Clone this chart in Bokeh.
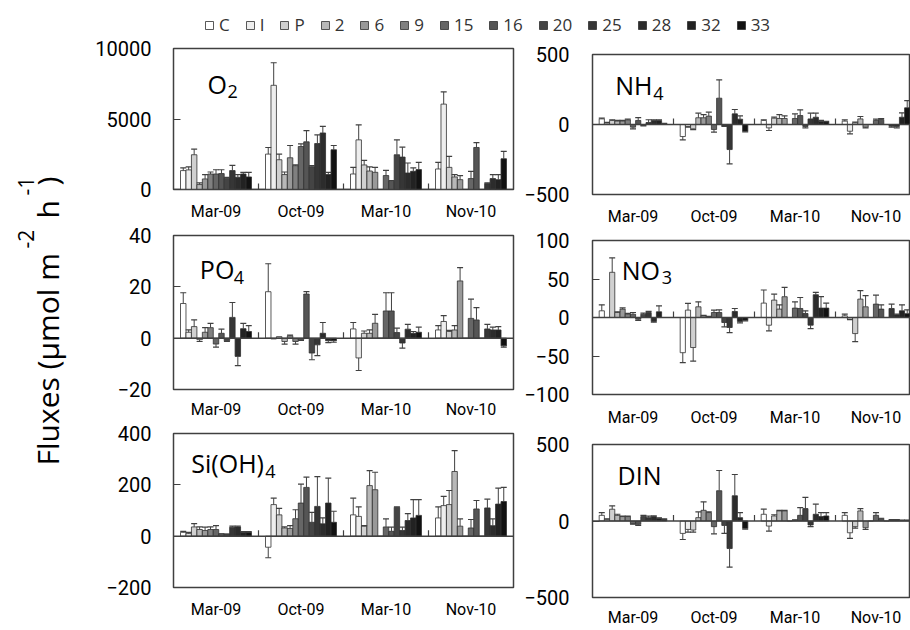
import numpy as np
from bokeh.plotting import figure
from bokeh.models import ColumnDataSource, Range1d, FixedTicker, Span, Label, Legend, LegendItem
from bokeh.layouts import column, row
from bokeh.embed import file_html
from bokeh.resources import INLINE

dates = ["Mar-09", "Oct-09", "Mar-10", "Nov-10"]
series = ["C", "I", "P", "2", "6", "9", "15", "16", "20", "25", "28", "32", "33"]
colors = ["#ffffff", "#eeeeee", "#d0d0d0", "#b8b8b8", "#999999", "#808080",
          "#666666", "#555555", "#444444", "#363636", "#2c2c2c", "#222222", "#121212"]

# rows = dates, columns = series
o2_mean = [[1340, 1390, 2465, 350, 750, 1100, 1100, 1130, 800, 1340, 870, 1100, 890],
           [2510, 7390, 2110, 1060, 2250, 1690, 3050, 3380, 1620, 3260, 4010, 1060, 2820],
           [1100, 3520, 1740, 1310, 1220, 0, 990, 590, 2465, 2300, 1170, 1290, 1410],
           [1455, 6055, 1570, 890, 700, 0, 775, 2980, 0, 420, 775, 700, 2180]]
o2_err = [[190, 210, 395, 120, 310, 140, 300, 270, 60, 370, 190, 120, 330],
          [470, 1600, 400, 180, 870, 50, 190, 800, 70, 610, 470, 160, 300],
          [470, 1060, 330, 290, 350, 0, 370, 50, 1055, 700, 710, 240, 510],
          [465, 865, 780, 170, 290, 0, 515, 350, 0, 50, 285, 360, 520]]

po4_mean = [[13.5, 2.3, 4.5, -0.6, 2.3, 4.1, -2.3, 1.9, -1.0, 8.1, -7.1, 3.7, 2.6],
            [18.1, -0.3, 0.6, -1.3, 0.9, -1.3, -0.6, 17.2, -5.8, -2.6, 1.9, -1.0, -1.0],
            [3.6, -7.7, 1.9, 1.9, 5.8, 0, 10.6, 10.6, 2.2, -1.9, 3.5, 1.9, 2.3],
            [3.2, 6.5, 2.6, 3.2, 22.3, 0, 7.7, 7.1, 0, 3.6, 3.2, 3.2, -3.0]]
po4_err = [[4.2, 0.9, 2.6, 0.7, 1.8, 1.7, 1.2, 1.6, 0.3, 5.8, 3.6, 2.1, 2.3],
           [10.9, 0, 0, 1.0, 0.3, 1.0, 0.3, 0.9, 2.6, 4.2, 4.2, 0.7, 0.6],
           [2.5, 4.9, 0.9, 1.3, 3.5, 0, 7.1, 7.1, 1.7, 2.0, 1.9, 0.7, 2.0],
           [1.7, 2.3, 0.4, 1.7, 5.2, 0, 7.5, 4.8, 0, 1.8, 1.1, 1.3, 0.5]]

si_mean = [[15, 10, 36, 26, 22, 26, 26, 10, 9, 35, 36, 15, 15],
           [-43, 123, 83, 32, 30, 68, 129, 190, 54, 116, 48, 129, 54],
           [83, 77, 39, 197, 181, 0, 36, 19, 112, 22, 61, 71, 81],
           [71, 119, 123, 252, 39, 0, 32, 106, 0, 110, 41, 125, 135]]
si_err = [[4, 5, 13, 10, 13, 10, 15, 0, 0, 4, 3, 3, 3],
          [41, 25, 25, 4, 11, 35, 74, 40, 39, 116, 23, 97, 43],
          [65, 37, 2, 58, 68, 0, 31, 16, 2, 13, 27, 71, 61],
          [43, 36, 55, 81, 28, 0, 33, 33, 0, 34, 26, 62, 55]]

nh4_mean = [[40, 10, 29, 24, 24, 33, -19, 29, -7, 14, 29, 29, 5],
            [-86, -14, -31, 48, 48, 60, -36, 188, -10, -179, 76, 38, -48],
            [29, -24, 45, 43, 43, 0, 43, 64, -14, 40, 52, 24, 17],
            [24, -48, 12, 40, -19, 0, 29, 36, 0, -12, -14, 52, 119]]
nh4_err = [[5, 5, 5, 5, 5, 5, 12, 20, 3, 20, 5, 5, 3],
           [24, 5, 5, 33, 23, 28, 19, 131, 3, 102, 31, 24, 5],
           [5, 19, 7, 28, 19, 0, 33, 41, 10, 41, 29, 5, 5],
           [9, 19, 5, 17, 5, 0, 10, 7, 0, 7, 10, 31, 52]]

no3_mean = [[8.7, 0, 58.7, 6.5, 10.9, 4.3, 4.3, -2.2, 4.3, 6.5, -5.2, 7.4, 0],
            [-45.7, 9.6, -39.0, 13.9, 2.2, 0.9, 6.5, 6.5, -6.5, -13.0, 7.8, -5.2, -3.5],
            [18.7, -10.0, 22.6, 10.9, 27.0, 0, 12.2, 11.7, 5.2, -10.0, 29.6, 12.2, 12.2],
            [2.2, -2.2, -20.9, 23.9, 13.9, 0, 17.4, 10.9, 0, 11.7, 3.5, 8.7, 5.0]]
no3_err = [[7.8, 0, 18.7, 1.0, 1.5, 1.0, 2.2, 1.5, 1.5, 1.5, 1.0, 7.8, 0],
           [13.0, 8.7, 17.6, 6.5, 0.5, 0.5, 3.1, 3.5, 5.7, 6.6, 3.9, 1.8, 1.0],
           [17.0, 7.4, 7.8, 5.6, 12.0, 0, 8.2, 14.3, 3.5, 4.4, 3.0, 14.8, 6.5],
           [2.1, 0.5, 10.4, 10.9, 14.4, 0, 11.7, 5.6, 0, 5.7, 1.0, 7.8, 5.0]]

din_mean = [[37, 11, 77, 37, 29, 29, -18, -22, 29, 22, 29, 18, 11],
            [-81, -55, -59, 22, 70, 55, -37, 198, -29, -180, 165, 22, -48],
            [44, -33, 33, 66, 66, 0, 5, 37, 81, -26, 44, 29, 33],
            [37, -77, -37, 66, -44, 0, 37, 15, 0, 7, 7, 4, 4]]
din_err = [[18, 3, 22, 7, 3, 3, 3, 7, 8, 10, 5, 3, 3],
           [40, 18, 14, 37, 55, 5, 47, 132, 52, 121, 139, 33, 5],
           [33, 33, 8, 4, 4, 0, 3, 51, 73, 11, 66, 26, 22],
           [18, 37, 10, 15, 11, 0, 18, 3, 0, 2, 2, 2, 2]]

FONT = "Open Sans"
TFONT = "Roboto"
N = len(series)
G = len(dates)
BW = 0.835 / N
EDGE = "#303030"
AXC = "#404040"


def make_panel(mean, err, yrange, yticks, width, height, top, bottom, left, right,
               xend, ystandoff, xstandoff, title, sub, tx, ty, sub_dx):
    p = figure(width=width, height=height, x_range=Range1d(-0.5, xend),
               y_range=Range1d(*yrange), output_backend="svg", toolbar_location=None,
               min_border=0, min_border_top=top, min_border_bottom=bottom,
               min_border_left=left, min_border_right=right)
    p.xgrid.visible = False
    p.ygrid.visible = False
    p.outline_line_color = AXC
    p.outline_line_width = 1.5
    mean = np.array(mean, dtype=float)
    err = np.array(err, dtype=float)
    centers = np.arange(G)
    for j in range(N):
        xs = centers + (j - (N - 1) / 2) * BW
        p.vbar(x=xs, top=mean[:, j], bottom=0, width=BW, fill_color=colors[j],
               line_color=EDGE, line_width=0.8)
    p.add_layout(Span(location=0, dimension="width", line_color=AXC, line_width=1.5))
    fh = height - top - bottom
    tl = (yrange[1] - yrange[0]) * 6.0 / fh
    seps = centers[:-1] + 0.5
    p.segment(x0=seps, y0=np.zeros(len(seps)), x1=seps, y1=np.full(len(seps), tl),
              line_color=AXC, line_width=1.2)
    for j in range(N):
        xs = centers + (j - (N - 1) / 2) * BW
        v = mean[:, j]
        e = err[:, j]
        m = (v != 0) & (e > 0)
        tip = v + np.sign(v) * e
        src = ColumnDataSource(dict(x=xs[m], v=v[m], tip=tip[m]))
        p.segment(x0="x", y0="v", x1="x", y1="tip", source=src, line_color=AXC, line_width=1)
        p.scatter(x="x", y="tip", marker="dash", size=6, source=src,
                  line_color=AXC, line_width=1.2)
    p.xaxis.ticker = FixedTicker(ticks=list(range(G)))
    p.xaxis.major_label_overrides = {i: d for i, d in enumerate(dates)}
    p.xaxis.axis_line_color = None
    p.xaxis.major_tick_line_color = None
    p.xaxis.major_tick_out = 0
    p.xaxis.major_tick_in = 0
    p.xaxis.minor_tick_line_color = None
    p.xaxis.minor_tick_out = 0
    p.xaxis.major_label_standoff = xstandoff
    p.xaxis.major_label_text_font = TFONT
    p.xaxis.major_label_text_font_size = "16px"
    p.xaxis.major_label_text_color = "black"
    p.yaxis.ticker = FixedTicker(ticks=yticks)
    p.yaxis.axis_line_color = None
    p.yaxis.major_tick_in = 7
    p.yaxis.major_tick_out = 0
    p.yaxis.major_tick_line_color = AXC
    p.yaxis.minor_tick_line_color = None
    p.yaxis.major_label_standoff = ystandoff
    p.yaxis.major_label_text_font = TFONT
    p.yaxis.major_label_text_font_size = "20px"
    p.yaxis.major_label_text_color = "black"
    p.add_layout(Label(x=tx, y=ty, text=title, text_font=FONT, text_font_size="25px",
                       text_baseline="alphabetic", text_color="black"))
    if sub:
        p.add_layout(Label(x=tx, y=ty, x_offset=sub_dx, y_offset=-8, text=sub,
                           text_font=FONT, text_font_size="18px",
                           text_baseline="alphabetic", text_color="black"))
    return p


LW, RW = 439, 393
p_o2 = make_panel(o2_mean, o2_err, (0, 10000), [0, 5000, 10000], LW, 187, 12, 33, 95, 4,
                  3.5, 22, 12, "O", "2", -0.10, 7500, 20)
p_po4 = make_panel(po4_mean, po4_err, (-20, 40), [-20, 0, 20, 40], LW, 198, 12, 31, 95, 4,
                   3.5, 22, 10, "PO", "4", -0.19, 26.8, 34)
p_si = make_panel(si_mean, si_err, (-200, 400), [-200, 0, 200, 400], LW, 200, 12, 33, 95, 4,
                  3.5, 22, 12, "Si(OH)", "4", -0.29, 284, 74)
p_nh4 = make_panel(nh4_mean, nh4_err, (-500, 500), [-500, 0, 500], RW, 192, 18, 33, 75, 0,
                   3.426, 23, 12, "NH", "4", -0.22, 280, 38)
p_no3 = make_panel(no3_mean, no3_err, (-100, 100), [-100, -50, 0, 50, 100], RW, 204, 12, 38, 75, 0,
                   3.426, 23, 13, "NO", "3", -0.14, 62, 40)
p_din = make_panel(din_mean, din_err, (-500, 500), [-500, 0, 500], RW, 197, 12, 31, 75, 0,
                   3.426, 23, 10, "DIN", "", -0.19, 300, 0)

# legend strip
lf = figure(width=910, height=36, x_range=Range1d(0, 1), y_range=Range1d(0, 1),
            output_backend="svg", toolbar_location=None, min_border=0)
lf.axis.visible = False
lf.xgrid.visible = False
lf.ygrid.visible = False
lf.outline_line_color = None
items = []
for j, s in enumerate(series):
    r = lf.vbar(x=[-10], top=[-10], bottom=-11, width=0.1, fill_color=colors[j],
                line_color=EDGE, line_width=0.8)
    items.append(LegendItem(label=s, renderers=[r]))
leg = Legend(items=items, orientation="horizontal", location=(204, 0),
             label_text_font=FONT, label_text_font_size="17px", label_text_color="#333333",
             glyph_width=10, glyph_height=10, label_standoff=5, spacing=15, label_width=0,
             padding=0, margin=0, border_line_color=None, background_fill_alpha=0)
lf.add_layout(leg, "center")

# y-axis title strip
YH = 585
yf = figure(width=78, height=YH, x_range=Range1d(0, 78), y_range=Range1d(0, YH),
            output_backend="svg", toolbar_location=None, min_border=0)
yf.axis.visible = False
yf.xgrid.visible = False
yf.ygrid.visible = False
yf.outline_line_color = None
ang = np.pi / 2
for txt, x, y, fs in [("Fluxes (\u00b5mol m", 47, 156, "30px"), ("-2", 25, 373, "21px"),
                      ("h", 47, 403, "30px"), ("-1", 25, 426, "21px"), (")", 47, 436, "30px")]:
    yf.add_layout(Label(x=x, y=y, text=txt, angle=ang, text_font=FONT, text_font_size=fs,
                        text_align="left", text_baseline="middle", text_color="black"))

layout = column(lf, row(yf, column(p_o2, p_po4, p_si), column(p_nh4, p_no3, p_din)))

open("out.html", "w").write(file_html(layout, INLINE))
